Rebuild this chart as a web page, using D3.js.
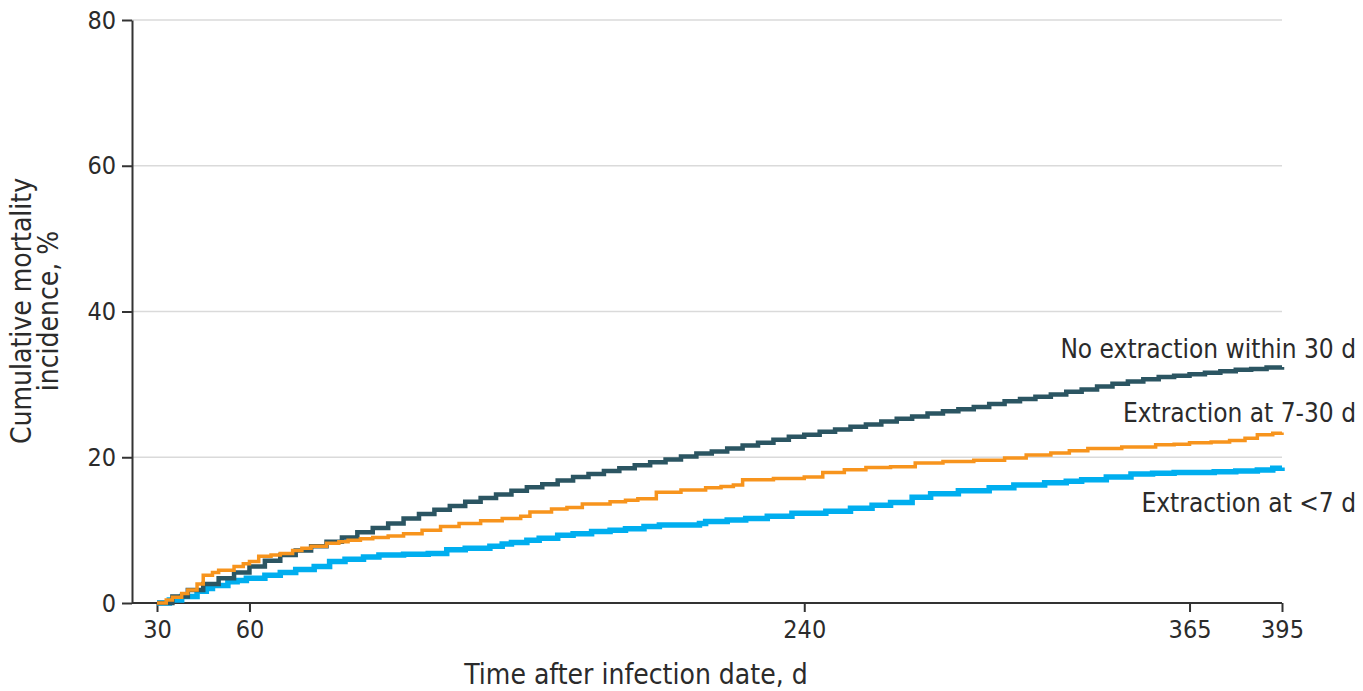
<!DOCTYPE html>
<html>
<head>
<meta charset="utf-8">
<script src="https://cdn.jsdelivr.net/npm/d3@7"></script>
<style>
  body { margin: 0; background: #fff; }
  text { font-family: "Liberation Sans Narrow", "DejaVu Sans Condensed", "Open Sans", sans-serif; fill: #2b2b2b; }
</style>
</head>
<body>
<div id="chart"></div>
<script>
// Cumulative mortality incidence (%) by day after infection
const noExtraction = [
    [30, 0], [35, 0.9], [40, 1.8], [45, 2.6], [50, 3.4], [55, 4.2], [60, 5.0], [65, 5.8],
    [70, 6.6], [75, 7.2], [80, 7.8], [85, 8.4], [90, 9.0], [95, 9.7], [100, 10.3],
    [105, 10.9], [110, 11.6], [115, 12.2], [120, 12.8], [125, 13.3], [130, 13.9],
    [135, 14.4], [140, 14.9], [145, 15.4], [150, 15.9], [155, 16.3], [160, 16.8],
    [165, 17.3], [170, 17.7], [175, 18.1], [180, 18.5], [185, 18.9], [190, 19.3],
    [195, 19.7], [200, 20.1], [205, 20.5], [210, 20.8], [215, 21.2], [220, 21.6],
    [225, 22.0], [230, 22.4], [235, 22.8], [240, 23.1], [245, 23.5], [250, 23.8],
    [255, 24.2], [260, 24.5], [265, 24.9], [270, 25.3], [275, 25.6], [280, 26.0],
    [285, 26.3], [290, 26.6], [295, 26.9], [300, 27.3], [305, 27.7], [310, 28.0],
    [315, 28.3], [320, 28.6], [325, 29.0], [330, 29.3], [335, 29.7], [340, 30.1],
    [345, 30.4], [350, 30.7], [355, 31.0], [360, 31.2], [365, 31.4], [370, 31.6],
    [375, 31.8], [380, 32.0], [385, 32.1], [390, 32.3], [395, 32.4]
];
const extraction7to30 = [
    [30, 0], [33, 0.4], [35, 0.8], [38, 1.3], [40, 1.8], [43, 2.6], [45, 3.8], [48, 4.2],
    [50, 4.5], [55, 5.0], [58, 5.4], [60, 5.7], [63, 6.4], [67, 6.6], [70, 6.8], [74, 7.2],
    [77, 7.5], [80, 7.8], [85, 8.2], [89, 8.4], [92, 8.6], [96, 8.8], [100, 9.0],
    [105, 9.2], [110, 9.5], [116, 10.0], [122, 10.5], [128, 10.9], [135, 11.3],
    [142, 11.6], [148, 11.9], [151, 12.5], [158, 12.9], [163, 13.1], [168, 13.6],
    [177, 13.9], [182, 14.1], [186, 14.3], [192, 15.2], [200, 15.5], [208, 15.8],
    [213, 16.0], [217, 16.2], [220, 16.9], [230, 17.1], [240, 17.3], [246, 17.9],
    [253, 18.3], [260, 18.6], [268, 18.7], [276, 19.2], [285, 19.4], [295, 19.6],
    [305, 19.9], [312, 20.3], [320, 20.6], [326, 20.9], [332, 21.2], [343, 21.4],
    [354, 21.7], [360, 21.8], [365, 22.0], [372, 22.1], [378, 22.3], [383, 22.6],
    [387, 23.1], [392, 23.3], [395, 23.4]
];
const extractionUnder7 = [
    [30, 0], [34, 0.4], [38, 0.9], [43, 1.6], [46, 2.0], [48, 2.4], [53, 2.9], [56, 3.1],
    [59, 3.4], [65, 3.8], [70, 4.2], [75, 4.6], [81, 5.0], [86, 5.7], [91, 6.0], [97, 6.3],
    [102, 6.6], [110, 6.7], [118, 6.8], [124, 7.3], [130, 7.5], [138, 7.8], [142, 8.1],
    [145, 8.3], [150, 8.6], [154, 8.9], [160, 9.3], [165, 9.5], [171, 9.8], [177, 10.0],
    [182, 10.2], [188, 10.5], [193, 10.7], [206, 10.9], [208, 11.2], [215, 11.4],
    [221, 11.6], [228, 11.9], [236, 12.3], [247, 12.6], [255, 13.0], [262, 13.4],
    [268, 13.8], [275, 14.5], [281, 15.0], [290, 15.4], [300, 15.8], [308, 16.2],
    [318, 16.5], [325, 16.7], [330, 16.9], [338, 17.3], [346, 17.7], [353, 17.8],
    [360, 17.9], [373, 18.0], [380, 18.1], [387, 18.25], [392, 18.5], [395, 18.6]
];
const xTicks = [30, 60, 240, 365, 395];
const yTicks = [0, 20, 40, 60, 80];

const series = [
    { name: "Extraction at <7 d", data: extractionUnder7, color: "#00aeef", width: 5.5, labelY: 512 },
    { name: "No extraction within 30 d", data: noExtraction, color: "#2b5562", width: 4.5, labelY: 358 },
    { name: "Extraction at 7-30 d", data: extraction7to30, color: "#f7941d", width: 3.5, labelY: 422 }
];

const width = 1363, height = 691;
const axisLeft = 132, axisRight = 1282;

const svg = d3.select("#chart").append("svg")
    .attr("width", width)
    .attr("height", height);

const x = d3.scaleLinear().domain([30, 395]).range([157, 1282]);
const y = d3.scaleLinear().domain([0, 80]).range([603, 20]);

// grid
svg.append("g")
    .selectAll("line")
    .data(yTicks.filter(d => d > 0))
    .join("line")
    .attr("x1", axisLeft).attr("x2", axisRight)
    .attr("y1", d => y(d)).attr("y2", d => y(d))
    .attr("stroke", "#dadada")
    .attr("stroke-width", 1.5);

// x axis
const xAxis = svg.append("g")
    .attr("transform", `translate(0,${y(0)})`)
    .call(d3.axisBottom(x).tickValues(xTicks).tickSize(9).tickSizeOuter(0).tickPadding(8));
xAxis.select(".domain").remove();
xAxis.append("line")
    .attr("x1", axisLeft).attr("x2", axisRight)
    .attr("stroke", "#333").attr("stroke-width", 2);
xAxis.selectAll(".tick line").attr("stroke", "#333").attr("stroke-width", 2);
xAxis.selectAll(".tick text")
    .style("font-size", "25px")
    .attr("fill", "#2b2b2b");

// y axis
const yAxis = svg.append("g")
    .attr("transform", `translate(${axisLeft},0)`)
    .call(d3.axisLeft(y).tickValues(yTicks).tickSize(10).tickSizeOuter(0).tickPadding(6));
yAxis.select(".domain").attr("stroke", "#333").attr("stroke-width", 2);
yAxis.selectAll(".tick line").attr("stroke", "#333").attr("stroke-width", 2);
yAxis.selectAll(".tick text")
    .style("font-size", "25px")
    .attr("fill", "#2b2b2b");

// lines
const line = d3.line()
    .x(d => x(d[0]))
    .y(d => y(d[1]))
    .curve(d3.curveStepAfter);

svg.append("g")
    .selectAll("path")
    .data(series)
    .join("path")
    .attr("d", d => line(d.data))
    .attr("fill", "none")
    .attr("stroke", d => d.color)
    .attr("stroke-width", d => d.width);

// labels
svg.append("g")
    .selectAll("text")
    .data(series)
    .join("text")
    .attr("x", 1356)
    .attr("y", d => d.labelY)
    .attr("text-anchor", "end")
    .style("font-size", "26px")
    .text(d => d.name);

// axis titles
svg.append("text")
    .attr("x", 636)
    .attr("y", 684)
    .attr("text-anchor", "middle")
    .style("font-size", "28px")
    .text("Time after infection date, d");

const yTitle = svg.append("text")
    .attr("transform", "translate(31,311) rotate(-90)")
    .attr("text-anchor", "middle")
    .style("font-size", "28px");
yTitle.append("tspan").attr("x", 0).attr("dy", 0).text("Cumulative mortality");
yTitle.append("tspan").attr("x", 0).attr("dy", 27).text("incidence, %");
</script>
</body>
</html>
